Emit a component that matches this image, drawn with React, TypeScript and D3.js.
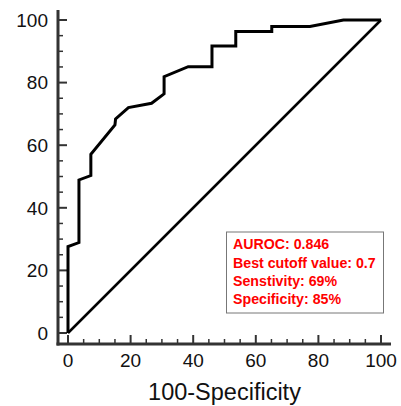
import React from "react";
import * as d3 from "d3";

const rocX = [0, 0, 3.5, 3.5, 7.3, 7.3, 15.0, 15.2, 19.3, 26.7, 30.7, 30.7, 38.4, 46.0, 46.0, 53.6, 53.6, 65.1, 65.1, 77.3, 88.0, 100];
const rocY = [0, 27.6, 28.9, 48.9, 50.3, 57.1, 66.5, 68.4, 72.0, 73.4, 76.4, 81.9, 85.1, 85.1, 91.7, 91.7, 96.3, 96.3, 97.9, 97.9, 100, 100];
const refLine = [0, 100];
const majorTicks = [0, 20, 40, 60, 80, 100];
const minorTicks = [5, 10, 15, 25, 30, 35, 45, 50, 55, 65, 70, 75, 85, 90, 95];
const legendLines = ["AUROC: 0.846", "Best cutoff value: 0.7", "Senstivity: 69%", "Specificity: 85%"];
const xTitle = "100-Specificity";

export default function App() {
  const x = d3.scaleLinear().domain([0, 100]).range([68, 381]);
  const y = d3.scaleLinear().domain([0, 100]).range([333, 20]);
  const pts: [number, number][] = rocX.map((v, i) => [v, rocY[i]]);
  const line = d3.line<[number, number]>().x(d => x(d[0])).y(d => y(d[1]));
  const axisColor = "#333";
  const axX = 58;
  const axY = 344;
  const font = "Liberation Sans, Arial, sans-serif";
  return (
    <svg width={401} height={406} style={{ position: "absolute", left: 0, top: 0, background: "#fff" }}>
      <line x1={axX} x2={axX} y1={10} y2={axY + 1.5} stroke={axisColor} strokeWidth={3} />
      <line x1={axX - 1.5} x2={391} y1={axY} y2={axY} stroke={axisColor} strokeWidth={3} />
      {majorTicks.map(t => (
        <g key={"my" + t}>
          <line x1={axX} x2={axX + 9} y1={y(t)} y2={y(t)} stroke={axisColor} strokeWidth={2} />
          <text x={48} y={y(t)} dy="0.36em" textAnchor="end" fontSize={19} fontFamily={font} fill="#111">{t}</text>
          <line x1={x(t)} x2={x(t)} y1={axY} y2={axY - 9} stroke={axisColor} strokeWidth={2} />
          <text x={x(t)} y={367} textAnchor="middle" fontSize={19} fontFamily={font} fill="#111">{t}</text>
        </g>
      ))}
      {minorTicks.map(t => (
        <g key={"mn" + t}>
          <line x1={axX} x2={axX + 5} y1={y(t)} y2={y(t)} stroke={axisColor} strokeWidth={1.5} />
          <line x1={x(t)} x2={x(t)} y1={axY} y2={axY - 5} stroke={axisColor} strokeWidth={1.5} />
        </g>
      ))}
      <text x={224.5} y={400} textAnchor="middle" fontSize={23.5} fontFamily={font} fill="#111">{xTitle}</text>
      <line x1={x(refLine[0])} y1={y(refLine[0])} x2={x(refLine[1])} y2={y(refLine[1])} stroke="#000" strokeWidth={2.5} />
      <path d={line(pts) || ""} fill="none" stroke="#000" strokeWidth={3} strokeLinejoin="miter" />
      <rect x={226.5} y={232} width={157} height={81} fill="#fff" stroke="#777" strokeWidth={1} />
      {legendLines.map((s, i) => (
        <text key={s} x={233} y={249.3 + i * 18.2} fontSize={14.2} fontWeight="bold" fontFamily={font} fill="#f00">{s}</text>
      ))}
    </svg>
  );
}
